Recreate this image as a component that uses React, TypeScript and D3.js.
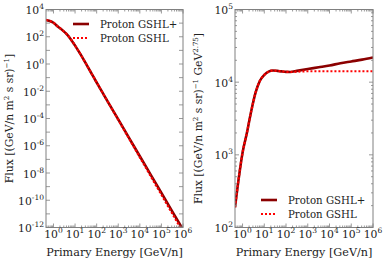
import { useEffect, useRef } from 'react';
import * as d3 from 'd3';

const W = 386;
const H = 258;
const FONT = 'DejaVu Serif';

// energy grid [GeV/n] and flux × E^2.75
const ENERGY = [0.45, 0.63, 1, 1.58, 2.5, 4, 6.3, 10, 15.8, 25, 40, 63, 100, 158, 316, 1e3, 3.16e3, 1e4, 3.16e4, 1e5, 3.16e5, 1e6];
const GSHL_PLUS = [190, 417, 1070, 1995, 3980, 7240, 10470, 12590, 13960, 14450, 14290, 14060, 13870, 13800, 14290, 15140, 16030, 16980, 18200, 19280, 20420, 21880];
const GSHL = [190, 417, 1070, 1995, 3980, 7240, 10470, 12590, 13960, 14450, 14290, 14060, 13870, 13800, 13960, 14130, 14130, 14130, 14130, 14130, 14130, 14130];
const SPECTRAL_INDEX = 2.75;

const X_TICKS = [1, 1e1, 1e2, 1e3, 1e4, 1e5, 1e6];
const LEFT_Y_TICKS = [1e-12, 1e-10, 1e-8, 1e-6, 1e-4, 1e-2, 1, 1e2, 1e4];
const RIGHT_Y_TICKS = [1e2, 1e3, 1e4, 1e5];

const SERIES = [
  { label: 'Proton GSHL+', color: '#8b0000', dash: null as string | null, width: 2.6, values: GSHL_PLUS },
  { label: 'Proton GSHL', color: '#ff0000', dash: '2,2', width: 2.2, values: GSHL },
];

type PanelOpts = {
  id: string;
  x0: number; x1: number; y0: number; y1: number;
  yDomain: [number, number];
  yTicks: number[];
  weighted: boolean;
  legend: { x: number; y: number };
  yLabel: [string, string, string, string?];
};

function expText(sel: d3.Selection<SVGTextElement, unknown, null, undefined>, v: number, size: number) {
  const e = Math.round(Math.log10(v));
  sel.append('tspan').text('10');
  sel.append('tspan').attr('dy', -size * 0.45).attr('font-size', size * 0.7).text(String(e));
}

function drawPanel(svg: d3.Selection<SVGSVGElement, unknown, null, undefined>, o: PanelOpts) {
  const x = d3.scaleLog().domain([ENERGY[0], 1e6]).range([o.x0, o.x1]);
  const y = d3.scaleLog().domain(o.yDomain).range([o.y1, o.y0]);
  const g = svg.append('g');

  g.append('clipPath').attr('id', `clip-${o.id}`).append('rect')
    .attr('x', o.x0).attr('y', o.y0).attr('width', o.x1 - o.x0).attr('height', o.y1 - o.y0);

  const line = d3.line<[number, number]>().x((d) => x(d[0])).y((d) => y(d[1])).curve(d3.curveMonotoneX);
  SERIES.forEach((s) => {
    const pts: [number, number][] = ENERGY.map((E, i) => [E, o.weighted ? s.values[i] : s.values[i] / Math.pow(E, SPECTRAL_INDEX)]);
    g.append('path').attr('d', line(pts) ?? '').attr('fill', 'none')
      .attr('stroke', s.color).attr('stroke-width', s.width)
      .attr('stroke-dasharray', s.dash).attr('clip-path', `url(#clip-${o.id})`);
  });

  // frame
  g.append('rect').attr('x', o.x0).attr('y', o.y0).attr('width', o.x1 - o.x0).attr('height', o.y1 - o.y0)
    .attr('fill', 'none').attr('stroke', '#808080').attr('stroke-width', 1);

  const tick = (x1: number, y1: number, x2: number, y2: number) =>
    g.append('line').attr('x1', x1).attr('y1', y1).attr('x2', x2).attr('y2', y2).attr('stroke', '#808080').attr('stroke-width', 0.8);

  // x ticks (major + minor, inward, top and bottom)
  const [lo, hi] = x.domain();
  for (let d = Math.floor(Math.log10(lo)); d <= 6; d++) {
    for (let m = 1; m <= 9; m++) {
      const v = m * Math.pow(10, d);
      if (v < lo || v > hi) continue;
      const len = m === 1 ? 4 : 2;
      const px = x(v);
      tick(px, o.y1, px, o.y1 - len);
      tick(px, o.y0, px, o.y0 + len);
    }
  }
  X_TICKS.forEach((v) => {
    const t = g.append('text').attr('x', x(v)).attr('y', o.y1 + 10.5).attr('text-anchor', 'middle')
      .attr('font-family', FONT).attr('font-size', 10.8).attr('fill', '#222');
    expText(t, v, 10.8);
  });

  // y ticks
  const ylo = Math.log10(o.yDomain[0]);
  const yhi = Math.log10(o.yDomain[1]);
  const minors = yhi - ylo <= 4;
  for (let d = ylo; d <= yhi; d++) {
    for (let m = 1; m <= 9; m++) {
      if (m > 1 && (!minors || d === yhi)) continue;
      const v = m * Math.pow(10, d);
      const py = y(v);
      const len = m === 1 ? 4 : 2;
      tick(o.x0, py, o.x0 + len, py);
      tick(o.x1, py, o.x1 - len, py);
    }
  }
  o.yTicks.forEach((v) => {
    const t = g.append('text').attr('x', o.x0 - 2).attr('y', y(v) + 4.5).attr('text-anchor', 'end')
      .attr('font-family', FONT).attr('font-size', 10.8).attr('fill', '#222');
    expText(t, v, 10.8);
  });

  // axis labels
  g.append('text').attr('x', (o.x0 + o.x1) / 2).attr('y', 255.5).attr('text-anchor', 'middle')
    .attr('font-family', FONT).attr('font-size', 11.2).attr('fill', '#222').text('Primary Energy [GeV/n]');

  const yl = g.append('text').attr('transform', `translate(${o.x0 - 33},${(o.y0 + o.y1) / 2}) rotate(-90)`)
    .attr('text-anchor', 'middle').attr('font-family', FONT).attr('font-size', 10.8).attr('fill', '#222');
  yl.append('tspan').text(o.yLabel[0]);
  yl.append('tspan').attr('dy', -4).attr('font-size', 7).text('2');
  yl.append('tspan').attr('dy', 4).text(o.yLabel[1]);
  yl.append('tspan').attr('dy', -4).attr('font-size', 7).text('−1');
  if (o.yLabel[3]) {
    yl.append('tspan').attr('dy', 4).text(o.yLabel[2]);
    yl.append('tspan').attr('dy', -4).attr('font-size', 7).text(o.yLabel[3]);
    yl.append('tspan').attr('dy', 4).text(']');
  } else {
    yl.append('tspan').attr('dy', 4).text(o.yLabel[2]);
  }

  // legend
  SERIES.forEach((s, i) => {
    const ly = o.legend.y + i * 14;
    g.append('line').attr('x1', o.legend.x).attr('x2', o.legend.x + 16).attr('y1', ly).attr('y2', ly)
      .attr('stroke', s.color).attr('stroke-width', s.width).attr('stroke-dasharray', s.dash);
    g.append('text').attr('x', o.legend.x + 27).attr('y', ly + 3.5)
      .attr('font-family', FONT).attr('font-size', 10.2).attr('fill', '#222').text(s.label);
  });
}

export default function App() {
  const ref = useRef<SVGSVGElement>(null);
  useEffect(() => {
    if (!ref.current) return;
    const svg = d3.select(ref.current);
    svg.selectAll('*').remove();
    drawPanel(svg, {
      id: 'flux', x0: 46, x1: 183, y0: 9.5, y1: 227.5,
      yDomain: [1e-12, 1e4], yTicks: LEFT_Y_TICKS, weighted: false,
      legend: { x: 73, y: 24 },
      yLabel: ['Flux [(GeV/n m', ' s sr)', ']'],
    });
    drawPanel(svg, {
      id: 'weighted', x0: 235, x1: 373, y0: 9.5, y1: 227.5,
      yDomain: [1e2, 1e5], yTicks: RIGHT_Y_TICKS, weighted: true,
      legend: { x: 261, y: 200 },
      yLabel: ['Flux [(GeV/n m', ' s sr)', ' GeV', '2.75'],
    });
  }, []);
  return (
    <svg ref={ref} width={W} height={H} style={{ position: 'absolute', left: 0, top: 0, background: '#fff' }} />
  );
}
